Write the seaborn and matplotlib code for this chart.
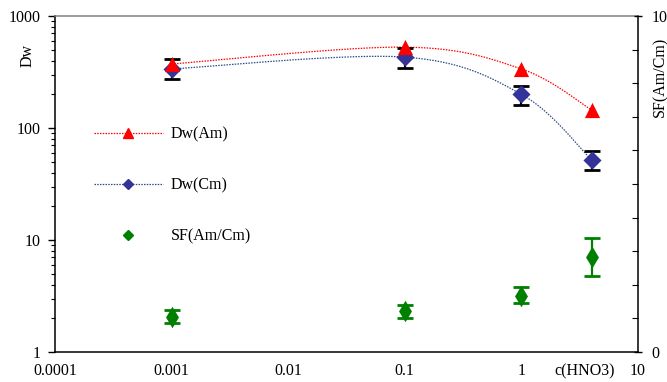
import numpy as np
import pandas as pd
import matplotlib
matplotlib.use("Agg")
import matplotlib.pyplot as plt
import seaborn as sns
from matplotlib.lines import Line2D
from matplotlib.ticker import LogLocator, NullFormatter, FixedLocator, FixedFormatter

# data
c_hno3 = [0.001, 0.1, 1, 4]
dw_am = [373, 528, 337, 145]
dw_cm = [337, 430, 200, 52]
dw_cm_lo = [274, 343, 160, 42]
dw_cm_hi = [413, 518, 237, 63]
sf = [1.05, 1.22, 1.68, 2.82]
sf_lo = [0.87, 1.02, 1.47, 2.26]
sf_hi = [1.25, 1.40, 1.93, 3.38]

x_ticks = [0.0001, 0.001, 0.01, 0.1, 1, 10]
x_labels = ["0.0001", "0.001", "0.01", "0.1", "1", "10"]
y_ticks = [1, 10, 100, 1000]
y_labels = ["1", "10", "100", "1000"]

RED = "#FF0000"
NAVY = "#333399"
BLUE_LINE = "#2B4C8C"
GREEN = "#008000"
FS = 11.5


def smooth(xs, ys, n=60):
    """Excel-style bezier smoothing, done in log-log space."""
    p = np.column_stack([np.log10(xs), np.log10(ys)])
    out = []
    for i in range(len(p) - 1):
        prev = p[i - 1] if i > 0 else p[i]
        nxt = p[i + 2] if i + 2 < len(p) else p[i + 1]
        c1 = p[i] + (p[i + 1] - prev) / 6
        c2 = p[i + 1] - (nxt - p[i]) / 6
        t = np.linspace(0, 1, n)[:, None]
        seg = ((1 - t) ** 3 * p[i] + 3 * (1 - t) ** 2 * t * c1
               + 3 * (1 - t) * t ** 2 * c2 + t ** 3 * p[i + 1])
        out.append(seg)
    seg = np.vstack(out)
    return 10 ** seg[:, 0], 10 ** seg[:, 1]


sns.set_theme(style="white")
plt.rcParams["font.family"] = ["Liberation Serif", "DejaVu Serif"]
plt.rcParams["font.size"] = FS
plt.rcParams["text.color"] = "black"
plt.rcParams["xtick.color"] = "black"
plt.rcParams["ytick.color"] = "black"
plt.rcParams["xtick.labelcolor"] = "black"
plt.rcParams["ytick.labelcolor"] = "black"

fig = plt.figure(figsize=(6.67, 3.82), dpi=100)
ax = fig.add_axes([0.0825, 0.0785, 0.874, 0.8795])

# smoothed dotted curves
am_x, am_y = smooth(c_hno3, dw_am)
cm_x, cm_y = smooth(c_hno3, dw_cm)
curves = pd.concat([
    pd.DataFrame({"c": am_x, "Dw": am_y, "s": "Dw(Am)"}),
    pd.DataFrame({"c": cm_x, "Dw": cm_y, "s": "Dw(Cm)"}),
])
sns.lineplot(data=curves, x="c", y="Dw", hue="s", palette=[RED, BLUE_LINE],
             linestyle=(0, (1.2, 1)), linewidth=0.9, sort=False,
             estimator=None, legend=False, ax=ax)

# error bars for Cm
cm = np.array(dw_cm)
ax.errorbar(c_hno3, dw_cm, yerr=[cm - np.array(dw_cm_lo), np.array(dw_cm_hi) - cm],
            fmt="none", ecolor="black", elinewidth=1.6, capsize=6, capthick=2, zorder=3)

pts = pd.DataFrame({"c": c_hno3, "am": dw_am, "cm": dw_cm})
sns.scatterplot(data=pts, x="c", y="cm", marker="D", s=85, color=NAVY,
                edgecolor=NAVY, linewidth=0, zorder=4, ax=ax)
sns.scatterplot(data=pts, x="c", y="am", marker="^", s=120, color=RED,
                edgecolor=RED, linewidth=0, zorder=5, ax=ax)
ax.set_xlabel("")
ax.set_ylabel("")

# secondary axis: separation factor
ax2 = ax.twinx()
sfa = np.array(sf)
ax2.errorbar(c_hno3, sf, yerr=[sfa - np.array(sf_lo), np.array(sf_hi) - sfa],
             fmt="none", ecolor=GREEN, elinewidth=1.6, capsize=6, capthick=2, zorder=3)
sns.scatterplot(x=c_hno3, y=sf, marker="d", s=120, color=GREEN, edgecolor=GREEN,
                linewidth=0, zorder=4, ax=ax2)
ax2.set_ylim(0, 10)
ax2.yaxis.set_major_locator(FixedLocator([0, 10]))
ax2.yaxis.set_minor_locator(FixedLocator(np.arange(1, 10)))
ax2.tick_params(axis="y", which="major", direction="inout", length=6, width=1, labelsize=FS, pad=7)
ax2.tick_params(axis="y", which="minor", direction="in", length=4, width=0.8)
ax2.set_ylabel("")
for side in ["left", "bottom", "right", "top"]:
    ax2.spines[side].set_visible(False)

# main axes scales and ticks (after twinx so they stick)
ax.set_xscale("log")
ax.set_yscale("log")
ax.set_xlim(0.0001, 10)
ax.set_ylim(1, 1000)
ax.xaxis.set_major_locator(FixedLocator(x_ticks))
ax.xaxis.set_major_formatter(FixedFormatter(x_labels))
ax.yaxis.set_major_locator(FixedLocator(y_ticks))
ax.yaxis.set_major_formatter(FixedFormatter(y_labels))
ax.xaxis.set_minor_locator(LogLocator(base=10, subs=np.arange(2, 10), numticks=20))
ax.yaxis.set_minor_locator(LogLocator(base=10, subs=np.arange(2, 10), numticks=20))
ax.xaxis.set_minor_formatter(NullFormatter())
ax.yaxis.set_minor_formatter(NullFormatter())
ax.tick_params(axis="x", which="major", direction="inout", length=6, width=1, labelsize=FS, pad=5)
ax.tick_params(axis="x", which="minor", direction="in", length=3.5, width=0.8)
ax.tick_params(axis="y", which="major", direction="out", length=5, width=1, labelsize=FS, pad=5)
ax.tick_params(axis="y", which="minor", direction="out", length=3, width=0.8)

for side in ["left", "bottom", "right"]:
    ax.spines[side].set_color("black")
    ax.spines[side].set_linewidth(1.1)
ax.spines["top"].set_color("#808080")
ax.spines["top"].set_linewidth(1.1)

fig.text(0.042, 0.855, "Dw", rotation=90, fontsize=FS, ha="center", va="center")
fig.text(0.877, 0.029, "c(HNO3)", fontsize=FS, ha="center", va="center")
fig.text(0.99, 0.80, "SF(Am/Cm)", rotation=90, fontsize=FS, ha="center", va="center")

# legend
handles = [
    Line2D([], [], color=RED, linestyle=(0, (1.2, 1)), linewidth=0.9, marker="^", markersize=7),
    Line2D([], [], color=BLUE_LINE, linestyle=(0, (1.2, 1)), linewidth=0.9, marker="D",
           markersize=5, markerfacecolor=NAVY, markeredgecolor=NAVY),
    Line2D([], [], color=GREEN, linestyle="none", marker="D", markersize=5),
]
ax.legend(handles, ["Dw(Am)", "Dw(Cm)", "SF(Am/Cm)"], loc="upper left",
          bbox_to_anchor=(0.042, 0.714), frameon=False, fontsize=FS,
          handlelength=4.3, handletextpad=0.5, labelspacing=2.2)

fig.savefig("out.png", dpi=100)
